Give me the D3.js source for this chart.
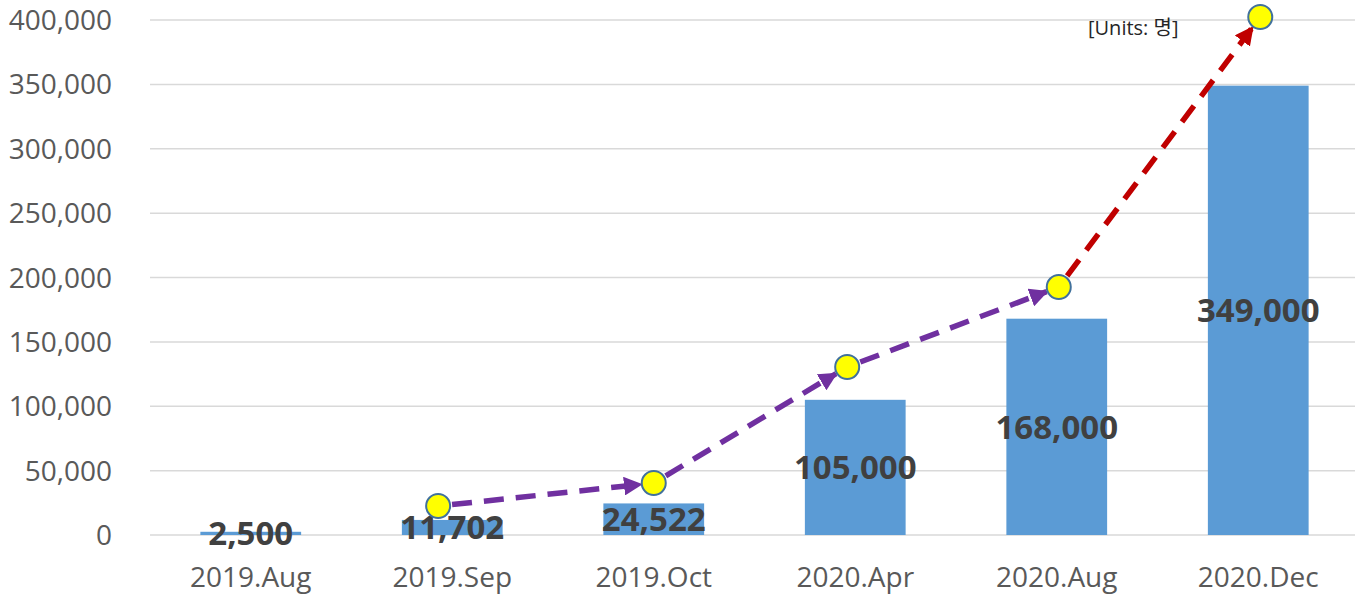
<!DOCTYPE html>
<meta charset="utf-8">
<style>
  body { margin: 0; background: #fff; }
  text { font-family: "Open Sans", sans-serif; }
</style>
<svg width="1359" height="594"></svg>
<script src="https://cdn.jsdelivr.net/npm/d3@7"></script>
<script>

    // data
    var months = ["2019.Aug", "2019.Sep", "2019.Oct", "2020.Apr", "2020.Aug", "2020.Dec"];
    var users = [2500, 11702, 24522, 105000, 168000, 349000];
    var yTicks = [0, 50000, 100000, 150000, 200000, 250000, 300000, 350000, 400000];

    // trend markers (position in category units, value)
    var trendPos = [0.93, 2.0, 2.96, 4.01, 5.01];
    var trendVal = [22500, 40400, 130500, 192600, 402300];
    var trendColor = ["#7030a0", "#7030a0", "#7030a0", "#c00000"];

    var svg = d3.select("svg"),
        margin = {top: 20, left: 150, bottom: 59, right: 0},
        width = +svg.attr("width") - margin.left - margin.right,
        height = +svg.attr("height") - margin.top - margin.bottom;

    var g = svg.append("g")
        .attr("transform", "translate(" + margin.left + "," + margin.top + ")");

    var x = d3.scaleBand()
        .domain(months)
        .range([0, width])
        .paddingInner(0.5)
        .paddingOuter(0.25);

    var y = d3.scaleLinear()
        .domain([0, 400000])
        .range([height, 0]);

    // category index -> pixel (band centre)
    var xi = d3.scaleLinear()
        .domain([0, months.length - 1])
        .range([x(months[0]) + x.bandwidth() / 2, x(months[months.length - 1]) + x.bandwidth() / 2]);

    // grid lines
    g.append("g").selectAll("line")
        .data(yTicks)
        .enter().append("line")
        .attr("x1", 0).attr("x2", width - 4)
        .attr("y1", d => y(d)).attr("y2", d => y(d))
        .attr("stroke", "#d9d9d9")
        .attr("stroke-width", 1.5);

    // y labels
    g.append("g").selectAll("text")
        .data(yTicks)
        .enter().append("text")
        .attr("x", -38)
        .attr("y", d => y(d))
        .attr("dy", "0.36em")
        .attr("text-anchor", "end")
        .attr("font-size", 28)
        .attr("fill", "#595959")
        .text(d => d3.format(",")(d));

    // x labels
    g.append("g").selectAll("text")
        .data(months)
        .enter().append("text")
        .attr("x", d => x(d) + x.bandwidth() / 2)
        .attr("y", height + 52)
        .attr("text-anchor", "middle")
        .attr("font-size", 28)
        .attr("fill", "#595959")
        .text(d => d);

    // bars
    g.append("g").selectAll("rect")
        .data(users)
        .enter().append("rect")
        .attr("x", (d, i) => x(months[i]))
        .attr("width", x.bandwidth())
        .attr("y", d => y(d))
        .attr("height", d => Math.max(2, height - y(d)))
        .attr("fill", "#5b9bd5");

    // bar labels, centred in the bar
    g.append("g").selectAll("text")
        .data(users)
        .enter().append("text")
        .attr("x", (d, i) => x(months[i]) + x.bandwidth() / 2)
        .attr("y", d => (y(d) + height) / 2)
        .attr("dy", "0.36em")
        .attr("text-anchor", "middle")
        .attr("font-size", 33)
        .attr("font-weight", "bold")
        .attr("fill", "#404040")
        .text(d => d3.format(",")(d));

    // arrow heads
    var defs = svg.append("defs");
    ["#7030a0", "#c00000"].forEach(function(c, i) {
        defs.append("marker")
            .attr("id", "arr" + i)
            .attr("viewBox", "0 0 10 10")
            .attr("refX", 9).attr("refY", 5)
            .attr("markerWidth", 3.4).attr("markerHeight", 3.4)
            .attr("markerUnits", "strokeWidth")
            .attr("orient", "auto")
            .append("path")
            .attr("d", "M0,0L10,5L0,10Z")
            .attr("fill", c);
    });

    var pts = trendPos.map((p, i) => [xi(p), y(trendVal[i])]);
    var r = 12;

    // dashed arrows from marker to marker
    var segs = d3.pairs(pts);
    g.append("g").selectAll("line")
        .data(segs)
        .enter().append("line")
        .each(function(s) {
            var dx = s[1][0] - s[0][0], dy = s[1][1] - s[0][1];
            var len = Math.sqrt(dx * dx + dy * dy);
            var ux = dx / len, uy = dy / len;
            d3.select(this)
                .attr("x1", s[0][0] + ux * (r + 2))
                .attr("y1", s[0][1] + uy * (r + 2))
                .attr("x2", s[1][0] - ux * (r + 1))
                .attr("y2", s[1][1] - uy * (r + 1));
        })
        .attr("stroke", (d, i) => trendColor[i])
        .attr("stroke-width", 5.5)
        .attr("stroke-dasharray", "20,12")
        .attr("marker-end", (d, i) => trendColor[i] === "#c00000" ? "url(#arr1)" : "url(#arr0)");

    // markers
    g.append("g").selectAll("circle")
        .data(pts)
        .enter().append("circle")
        .attr("cx", d => d[0])
        .attr("cy", d => d[1])
        .attr("r", r)
        .attr("fill", "#ffff00")
        .attr("stroke", "#41719c")
        .attr("stroke-width", 2);

    // units note
    svg.append("text")
        .attr("x", 1088)
        .attr("y", 35)
        .attr("font-size", 20)
        .attr("fill", "#262626")
        .style("font-family", "'Open Sans', 'Noto Sans CJK KR', sans-serif")
        .text("[Units: 명]");

</script>
